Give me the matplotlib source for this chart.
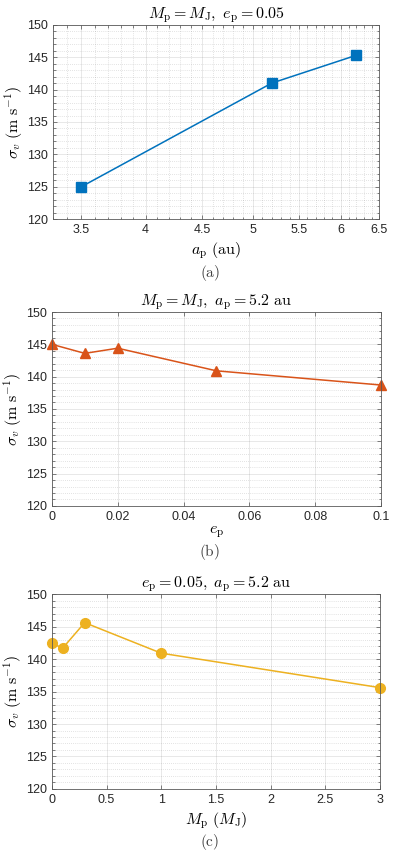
import numpy as np
import matplotlib.pyplot as plt
from matplotlib.ticker import MultipleLocator, FixedLocator, NullFormatter

plt.rcParams['mathtext.fontset'] = 'cm'
plt.rcParams['font.family'] = ['Liberation Sans', 'DejaVu Sans']

# (a) semi-major axis scan
a_p = [3.5, 5.2, 6.2]
sig_a = [125.0, 141.0, 145.3]

# (b) eccentricity scan
e_p = [0.0, 0.01, 0.02, 0.05, 0.1]
sig_b = [145.0, 143.6, 144.4, 140.9, 138.7]

# (c) planet mass scan
m_p = [0.0, 0.1, 0.3, 1.0, 3.0]
sig_c = [142.4, 141.7, 145.6, 140.9, 135.6]

a_ticks = [3.5, 4, 4.5, 5, 5.5, 6, 6.5]

fig = plt.figure(figsize=(3.99, 8.56), dpi=100)

LAB = 11.5

def style(ax):
    ax.set_ylim(120, 150)
    ax.yaxis.set_major_locator(MultipleLocator(5))
    ax.yaxis.set_minor_locator(MultipleLocator(1))
    ax.grid(True, which='major', color='0.15', alpha=0.12, lw=0.6)
    ax.grid(True, which='minor', axis='y', color='0.15', alpha=0.25, lw=0.5, ls=(0, (1, 2)))
    ax.tick_params(which='both', direction='in', top=True, right=True,
                   color='0.3', labelsize=9, labelcolor='0.15')
    ax.tick_params(which='major', length=3, width=0.5)
    ax.tick_params(which='minor', length=1.8, width=0.5)
    for s in ax.spines.values():
        s.set_color('0.35')
        s.set_linewidth(0.6)
    ax.set_ylabel(r'$\sigma_v\ (\mathrm{m\ s^{-1}})$', fontsize=11.5)
    ax.yaxis.set_label_coords(-0.085, 0.5)
    ax.set_axisbelow(True)

# (a)
ax1 = fig.add_axes([0.133, 0.744, 0.817, 0.227])
ax1.plot(a_p, sig_a, '-s', color='#0072BD', lw=1.1, ms=6.5)
ax1.set_xscale('log')
ax1.set_xlim(3.3, 6.5)
ax1.xaxis.set_major_locator(FixedLocator(a_ticks))
ax1.set_xticklabels([f'{t:g}' for t in a_ticks])
ax1.xaxis.set_minor_locator(FixedLocator(np.arange(3.3, 6.5, 0.1)))
ax1.xaxis.set_minor_formatter(NullFormatter())
style(ax1)
ax1.grid(True, which='minor', axis='x', color='0.15', alpha=0.25, lw=0.5, ls=(0, (1, 2)))
ax1.set_xlabel(r'$a_\mathrm{p}\ (\mathrm{au})$', fontsize=LAB, labelpad=3)
ax1.set_title(r'$M_\mathrm{p} = M_\mathrm{J},\ e_\mathrm{p} = 0.05$', fontsize=LAB, pad=4)
fig.text(0.526, 0.681, r'$\mathrm{(a)}$', ha='center', va='center', fontsize=11, color='0.25')

# (b)
ax2 = fig.add_axes([0.130, 0.409, 0.825, 0.2265])
ax2.plot(e_p, sig_b, '-^', color='#D95319', lw=1.1, ms=7.5, clip_on=False)
ax2.set_xlim(0, 0.1)
ax2.set_xticks([0, 0.02, 0.04, 0.06, 0.08, 0.1])
ax2.set_xticklabels(['0', '0.02', '0.04', '0.06', '0.08', '0.1'])
style(ax2)
ax2.set_xlabel(r'$e_\mathrm{p}$', fontsize=LAB, labelpad=1)
ax2.set_title(r'$M_\mathrm{p} = M_\mathrm{J},\ a_\mathrm{p} = 5.2\ \mathrm{au}$', fontsize=LAB, pad=4)
fig.text(0.526, 0.3555, r'$\mathrm{(b)}$', ha='center', va='center', fontsize=11, color='0.25')

# (c)
ax3 = fig.add_axes([0.130, 0.0783, 0.822, 0.2277])
ax3.plot(m_p, sig_c, '-o', color='#EDB120', lw=1.1, ms=7, clip_on=False)
ax3.set_xlim(0, 3)
ax3.set_xticks([0, 0.5, 1, 1.5, 2, 2.5, 3])
ax3.set_xticklabels(['0', '0.5', '1', '1.5', '2', '2.5', '3'])
style(ax3)
ax3.set_xlabel(r'$M_\mathrm{p}\ (M_\mathrm{J})$', fontsize=LAB, labelpad=3)
ax3.set_title(r'$e_\mathrm{p} = 0.05,\ a_\mathrm{p} = 5.2\ \mathrm{au}$', fontsize=LAB, pad=4)
fig.text(0.526, 0.0164, r'$\mathrm{(c)}$', ha='center', va='center', fontsize=11, color='0.25')

fig.savefig('out.png', dpi=100)
